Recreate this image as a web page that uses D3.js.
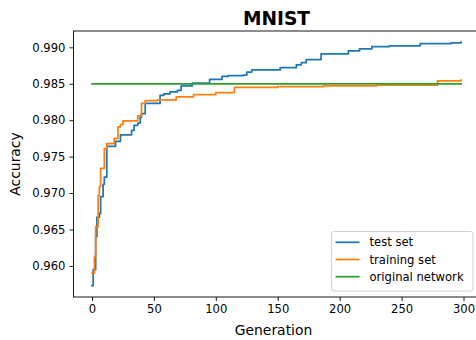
<!DOCTYPE html>
<html><head><meta charset="utf-8">
<script src="https://cdn.jsdelivr.net/npm/d3@7"></script>
<style>html,body{margin:0;padding:0;background:#fff;} svg{display:block;font-family:"DejaVu Sans",sans-serif;}</style>
</head><body><svg id="chart" width="476" height="340"></svg>
<script>
// ---- data ----
const testGen = [0, 1, 3, 4, 6, 7, 9, 10, 12, 19, 23, 32, 34, 37, 39, 40, 43, 55, 58, 63, 69, 72, 81, 95, 105, 110, 122, 125, 129, 152, 165, 169, 173, 185, 207, 216, 226, 240, 265, 290, 298];
const testAcc = [0.9573, 0.9595, 0.9640, 0.9667, 0.9672, 0.9695, 0.9712, 0.9722, 0.9764, 0.9771, 0.9780, 0.9786, 0.9793, 0.9796, 0.9804, 0.9809, 0.9823, 0.9834, 0.9836, 0.9839, 0.9841, 0.9847, 0.9851, 0.9856, 0.9860, 0.9861, 0.9862, 0.9866, 0.9869, 0.9872, 0.9876, 0.9879, 0.9883, 0.9891, 0.9895, 0.9898, 0.9901, 0.9902, 0.9905, 0.9906, 0.9907];
const trainGen = [0, 2, 3, 5, 6, 7, 10, 12, 18, 21, 23, 25, 37, 40, 43, 53, 68, 82, 100, 115, 150, 187, 230, 279, 298];
const trainAcc = [0.9590, 0.9613, 0.9654, 0.9697, 0.9709, 0.9734, 0.9761, 0.9768, 0.9775, 0.9791, 0.9794, 0.9799, 0.9806, 0.9823, 0.9827, 0.9828, 0.9832, 0.9835, 0.9838, 0.9845, 0.9846, 0.9847, 0.9848, 0.9854, 0.9855];
const originalGen = [0, 298];
const originalAcc = [0.985, 0.985];
const seriesNames = ["test set", "training set", "original network"];
const seriesColors = ["#1f77b4", "#ff7f0e", "#2ca02c"];
const xTicks = [0, 50, 100, 150, 200, 250, 300];
const yTicks = [0.960, 0.965, 0.970, 0.975, 0.980, 0.985, 0.990];
const titleText = "MNIST";
const xLabel = "Generation";
const yLabel = "Accuracy";

// ---- layout ----
const svg = d3.select("#chart");
const L = 73.5, R = 479.5, T = 31, B = 297;
const x = d3.scaleLinear().domain([-14.9, 312.9]).range([L, R]);
const y = d3.scaleLinear().domain([0.95574, 0.99224]).range([B, T]);

svg.append("rect").attr("width", 476).attr("height", 340).attr("fill", "#fff");

svg.append("defs").append("clipPath").attr("id", "clip")
  .append("rect").attr("x", L).attr("y", T).attr("width", R - L).attr("height", B - T);

const series = [
  {gen: testGen, acc: testAcc},
  {gen: trainGen, acc: trainAcc},
  {gen: originalGen, acc: originalAcc}
];
const line = d3.line().x(d => x(d[0])).y(d => y(d[1])).curve(d3.curveStepAfter);
const g = svg.append("g").attr("clip-path", "url(#clip)");
series.forEach((s, i) => {
  g.append("path")
    .attr("d", line(s.gen.map((v, j) => [v, s.acc[j]])))
    .attr("fill", "none")
    .attr("stroke", seriesColors[i])
    .attr("stroke-width", 1.75)
    .attr("stroke-linejoin", "round")
    .attr("stroke-linecap", "square");
});

// axes
const xAxis = svg.append("g").attr("transform", `translate(0,${B})`)
  .call(d3.axisBottom(x).tickValues(xTicks).tickFormat(d3.format("d")).tickSize(4).tickSizeOuter(0).tickPadding(4));
const yAxis = svg.append("g").attr("transform", `translate(${L},0)`)
  .call(d3.axisLeft(y).tickValues(yTicks).tickFormat(d3.format(".3f")).tickSize(4).tickSizeOuter(0).tickPadding(4));
[xAxis, yAxis].forEach(a => {
  a.select(".domain").remove();
  a.selectAll("line").attr("stroke", "#000").attr("stroke-width", 0.9);
  a.selectAll("text").attr("font-family", "DejaVu Sans").attr("font-size", 11.6).attr("fill", "#000");
});

// spines
svg.append("rect").attr("x", L).attr("y", T).attr("width", R - L).attr("height", B - T)
  .attr("fill", "none").attr("stroke", "#000").attr("stroke-width", 0.9);

// labels
svg.append("text").attr("x", (L + R) / 2).attr("y", 24.5).attr("text-anchor", "middle")
  .attr("font-size", 18.6).attr("font-weight", "bold").text(titleText);
svg.append("text").attr("x", (L + R) / 2 - 3).attr("y", 335).attr("text-anchor", "middle")
  .attr("font-size", 13.9).text(xLabel);
svg.append("text").attr("transform", `translate(20,${(T + B) / 2}) rotate(-90)`).attr("text-anchor", "middle")
  .attr("font-size", 13.9).text(yLabel);

// legend
const lg = svg.append("g");
lg.append("rect").attr("x", 331.5).attr("y", 231.5).attr("width", 141.5).attr("height", 59.5).attr("rx", 2.5)
  .attr("fill", "#fff").attr("fill-opacity", 0.8).attr("stroke", "#ccc").attr("stroke-width", 0.9);
const rowY = [242.3, 259.5, 276.7];
seriesNames.forEach((n, i) => {
  lg.append("line").attr("x1", 335.5).attr("x2", 359.5).attr("y1", rowY[i]).attr("y2", rowY[i])
    .attr("stroke", seriesColors[i]).attr("stroke-width", 1.75);
  lg.append("text").attr("x", 369.5).attr("y", rowY[i]).attr("dy", "0.35em")
    .attr("font-size", 11.6).attr("fill", "#000").text(n);
});
</script>
</body></html>
